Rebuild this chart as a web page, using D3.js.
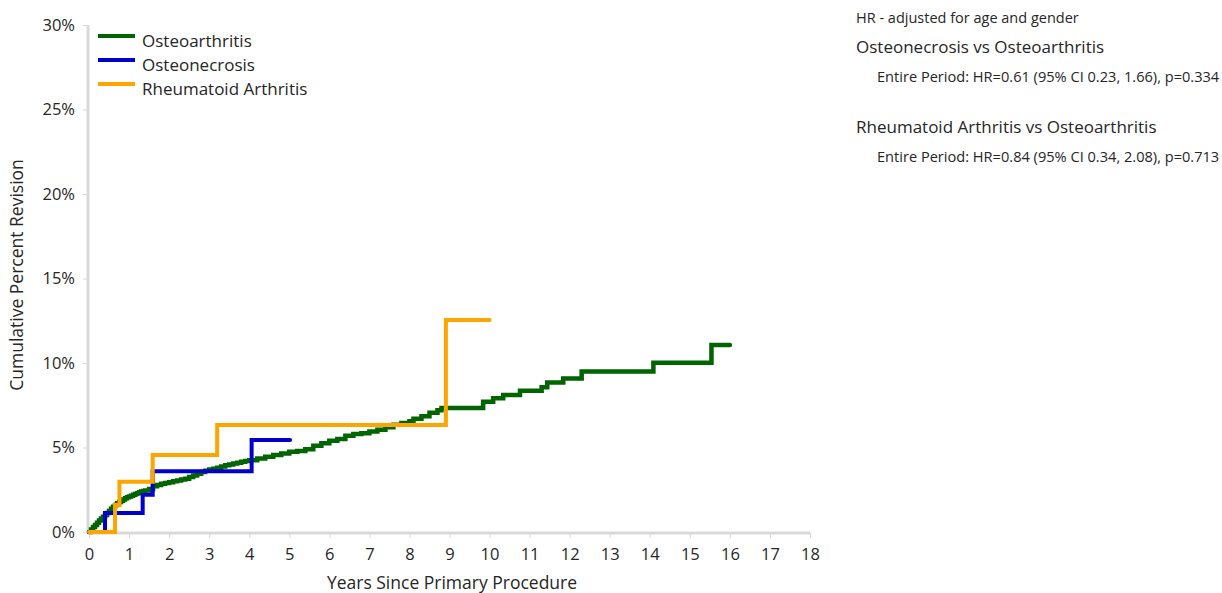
<!DOCTYPE html>
<html><head><meta charset="utf-8">
<script src="https://cdn.jsdelivr.net/npm/d3@7"></script>
<style>
body{margin:0;background:#fff;}
svg text{font-family:"Open Sans","Noto Sans",sans-serif;fill:#262626;}
</style></head>
<body><svg id="c" width="1222" height="593"></svg>
<script>
const seriesNames = ["Osteoarthritis","Osteonecrosis","Rheumatoid Arthritis"];
const seriesColors = ["#006400","#0000CD","#FFA500"];
const oaYears = [0,0.05,0.1,0.15,0.2,0.25,0.3,0.35,0.4,0.45,0.5,0.55,0.6,0.65,0.7,0.75,0.8,0.85,0.9,0.95,1.0,1.05,1.1,1.15,1.2,1.25,1.3,1.35,1.4,1.5,1.6,1.7,1.8,1.9,2.0,2.1,2.2,2.3,2.4,2.5,2.6,2.7,2.8,2.9,3.0,3.1,3.2,3.3,3.4,3.5,3.6,3.7,3.8,3.9,4.0,4.2,4.4,4.6,4.8,5.0,5.2,5.4,5.6,5.8,6.0,6.2,6.4,6.6,6.8,7.0,7.2,7.4,7.6,7.8,8.0,8.1,8.3,8.5,8.7,8.8,9.84,10.09,10.34,10.76,11.3,11.44,11.84,12.3,14.09,15.54,16.0];
const oaValues = [0,0.15,0.3,0.42,0.55,0.68,0.8,0.9,1.0,1.12,1.25,1.38,1.5,1.6,1.7,1.78,1.85,1.93,2.0,2.05,2.1,2.15,2.2,2.25,2.3,2.35,2.4,2.43,2.45,2.55,2.7,2.78,2.85,2.9,2.95,3.0,3.05,3.1,3.15,3.25,3.35,3.45,3.55,3.62,3.7,3.75,3.8,3.88,3.95,4.0,4.05,4.1,4.15,4.2,4.25,4.35,4.45,4.55,4.65,4.75,4.8,4.9,5.1,5.25,5.4,5.5,5.7,5.8,5.85,5.95,6.05,6.2,6.35,6.45,6.55,6.7,6.85,7.05,7.2,7.33,7.71,7.91,8.11,8.36,8.56,8.84,9.09,9.49,10.02,11.07,11.07];
const onYears = [0,0.4,1.34,1.59,4.06,5.02];
const onValues = [0,1.12,2.2,3.6,5.44,5.44];
const raYears = [0,0.65,0.76,1.59,3.2,8.91,10.0];
const raValues = [0,1.6,2.98,4.55,6.33,12.55,12.55];
const xTicks = d3.range(0,19,1);
const yTicks = [0,5,10,15,20,25,30];
const notes = [
  {text:"HR - adjusted for age and gender", size:14.5, indent:0, y:23},
  {text:"Osteonecrosis vs Osteoarthritis", size:17, indent:0, y:53},
  {text:"Entire Period: HR=0.61 (95% CI 0.23, 1.66), p=0.334", size:14.6, indent:21, y:82},
  {text:"Rheumatoid Arthritis vs Osteoarthritis", size:17, indent:0, y:133},
  {text:"Entire Period: HR=0.84 (95% CI 0.34, 2.08), p=0.713", size:14.6, indent:21, y:162}
];

const svg = d3.select("#c");
const x = d3.scaleLinear().domain([0,18]).range([89,810]);
const y = d3.scaleLinear().domain([0,30]).range([532,25]);

const xAxis = svg.append("g").attr("transform","translate(0,533)")
  .call(d3.axisBottom(x).tickValues(xTicks).tickSize(5).tickPadding(10).tickFormat(d3.format("d")));
xAxis.select(".domain").attr("stroke","#d9d9d9").attr("stroke-width",3).attr("d","M87,0H810");
xAxis.selectAll(".tick line").attr("stroke","#d9d9d9").attr("stroke-width",1);
xAxis.selectAll(".tick text").attr("font-size",16.5).attr("fill","#262626").attr("font-family","'Open Sans',sans-serif");

const yAxis = svg.append("g").attr("transform","translate(88,0)")
  .call(d3.axisLeft(y).tickValues(yTicks).tickSize(5).tickPadding(8).tickFormat(d=>d+"%"));
yAxis.select(".domain").attr("stroke","#d9d9d9").attr("stroke-width",3).attr("d","M0,25V533");
yAxis.selectAll(".tick line").attr("stroke","#d9d9d9").attr("stroke-width",1);
yAxis.selectAll(".tick text").attr("font-size",16.5).attr("fill","#262626").attr("font-family","'Open Sans',sans-serif");

svg.append("text").attr("x",452).attr("y",589).attr("text-anchor","middle").attr("font-size",17.5).text("Years Since Primary Procedure");
svg.append("text").attr("transform","translate(23,275) rotate(-90)").attr("text-anchor","middle").attr("font-size",17.5).text("Cumulative Percent Revision");

const line = d3.line().x(d=>x(d[0])).y(d=>y(d[1])).curve(d3.curveStepAfter);
const series = [
  d3.zip(oaYears, oaValues),
  d3.zip(onYears, onValues),
  d3.zip(raYears, raValues)
];
const widths = [4.5,4,4];
series.forEach((s,i)=>{
  svg.append("path").datum(s).attr("d",line).attr("fill","none")
    .attr("stroke",seriesColors[i]).attr("stroke-width",widths[i]).attr("stroke-linejoin","miter").attr("stroke-linecap","round");
});

const legendY = [36,60,84];
seriesNames.forEach((n,i)=>{
  svg.append("line").attr("x1",98).attr("x2",135).attr("y1",legendY[i]).attr("y2",legendY[i])
    .attr("stroke",seriesColors[i]).attr("stroke-width",4);
  svg.append("text").attr("x",142).attr("y",legendY[i]+11).attr("font-size",17).text(n);
});

notes.forEach(n=>{
  svg.append("text").attr("x",856+n.indent).attr("y",n.y).attr("font-size",n.size).text(n.text);
});
</script></body></html>
